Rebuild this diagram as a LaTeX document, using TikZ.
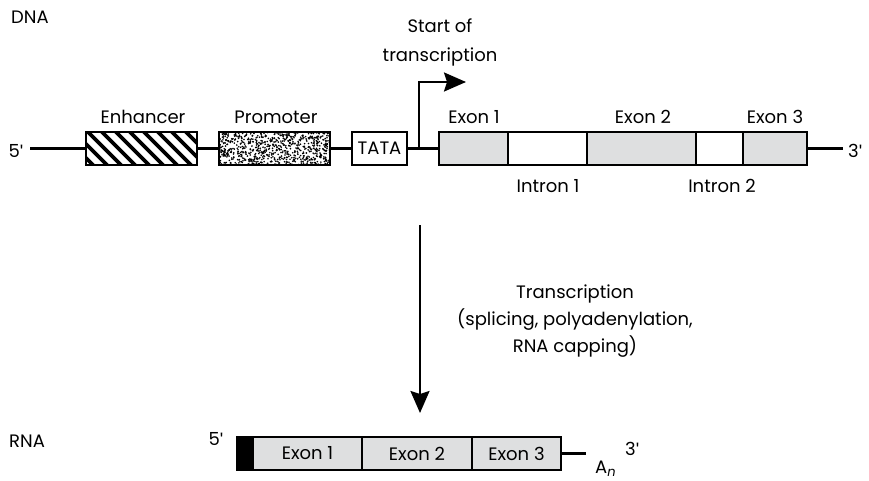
\documentclass[tikz,border=0pt]{standalone}
\usepackage{fontspec}
\setmainfont{Poppins}
\newfontfamily\qf{Liberation Sans}
\usetikzlibrary{arrows.meta}
\definecolor{exgray}{RGB}{222,223,224}
\newcommand{\sq}{{\qf\char"0027}}
\begin{document}
\begin{tikzpicture}[x=1pt,y=-1pt,
  lbl/.style={font=\fontsize{18}{21}\selectfont, inner sep=0pt, anchor=base},
  bx/.style={draw, line width=2.4pt, minimum height=33pt, inner sep=0pt, font=\fontsize{18}{21}\selectfont},
  ex/.style={bx, fill=exgray},
  ln/.style={line width=2.4pt},
  tip/.style={-{Stealth[length=22pt,width=19pt,inset=3pt]}}
]
\useasboundingbox (0,0) rectangle (869,481);

% --- patterns (drawn first, boxes on top)
\begin{scope}
  \clip (86,132) rectangle (197,165);
  \foreach \i in {-3,...,8} \draw[line width=3.6pt] (86+14*\i,130) -- ++(37,37);
\end{scope}
\begin{scope}
  \clip (219,132) rectangle (330,165);
  \pgfmathsetseed{12}
  \foreach \k in {1,...,800}{%
    \pgfmathsetmacro\rx{219+111*rnd}%
    \pgfmathsetmacro\ry{132+33*rnd}%
    \fill (\rx,\ry) circle[radius=0.9];}
\end{scope}

% --- DNA
\node[lbl, anchor=base west] (dna) at (11,24) {DNA};
\node[lbl] (five) at (16,158) {5\sq};
\node[lbl, anchor=base west] (three) at (848,158) {3\sq};
\coordinate (c5) at (30,148.5);
\coordinate (c3) at (843,148.5);

\node[bx, minimum width=111pt] (enh) at (141.5,148.5) {};
\node[bx, minimum width=111pt] (prom) at (274.5,148.5) {};
\node[bx, minimum width=55pt] (tata) at (379.5,148.5) {TATA};
\node[ex, minimum width=69pt] (e1) at (473.5,148.5) {};
\node[bx, minimum width=79pt] (i1) at (547.5,148.5) {};
\node[ex, minimum width=109pt] (e2) at (641.5,148.5) {};
\node[bx, minimum width=47pt] (i2) at (719.5,148.5) {};
\node[ex, minimum width=64pt] (e3) at (775,148.5) {};

\node[lbl] (lenh) at (143,124) {Enhancer};
\node[lbl] (lprom) at (276,124) {Promoter};
\node[lbl] (le1) at (474,124) {Exon 1};
\node[lbl] (le2) at (643,124) {Exon 2};
\node[lbl] (le3) at (775,124) {Exon 3};
\node[lbl] (li1) at (548,192) {Intron 1};
\node[lbl] (li2) at (722,192) {Intron 2};
\node[lbl] (ls1) at (440,33) {Start of};
\node[lbl] (ls2) at (440,62) {transcription};

\draw[ln] (c5) -- (enh.west);
\draw[ln] (enh.east) -- (prom.west);
\draw[ln] (prom.east) -- (tata.west);
\draw[ln] (tata.east) -- (e1.west);
\draw[ln] (e3.east) -- (c3);

\coordinate (ts) at (419,148.5);
\coordinate (tsend) at (466,82);
\draw[ln, tip] (ts) |- (tsend);

% --- transcription arrow
\coordinate (ta) at (420,225);
\coordinate (tb) at (420,413);
\draw[ln, tip] (ta) -- (tb);
\node[lbl] (tr1) at (575,298) {Transcription};
\node[lbl] (tr2) at (575,325) {(splicing, polyadenylation,};
\node[lbl] (tr3) at (575,352) {RNA capping)};

% --- RNA
\node[lbl, anchor=base west] (rna) at (9,447) {RNA};
\node[lbl] (r5) at (216,445) {5\sq};
\node[bx, fill=black, minimum width=16pt] (cap) at (245,453.5) {};
\node[ex, minimum width=109pt] (r1) at (307.5,453.5) {Exon 1};
\node[ex, minimum width=110pt] (r2) at (417,453.5) {Exon 2};
\node[ex, minimum width=89pt] (r3) at (516.5,453.5) {Exon 3};
\coordinate (rt) at (586,453.5);
\draw[ln] (r3.east) -- (rt);
\node[lbl, anchor=base west] (an) at (595,473) {A\raisebox{-3.5pt}{\fontsize{13}{13}\selectfont\itshape n}};
\node[lbl, anchor=base west] (r3p) at (625,455) {3\sq};
\end{tikzpicture}
\end{document}
